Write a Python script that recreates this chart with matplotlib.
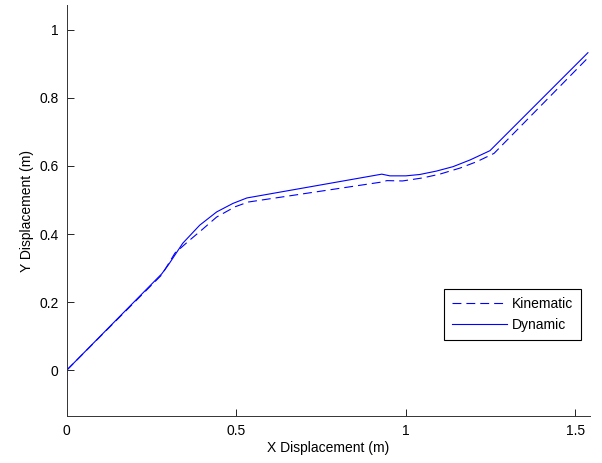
import numpy as np
import matplotlib
matplotlib.use("Agg")
import matplotlib.pyplot as plt

plt.rcParams['font.family'] = ['Liberation Sans', 'DejaVu Sans']

# Kinematic trajectory (dashed)
kin_x = [0, 0.28, 0.319, 0.36, 0.398, 0.442, 0.496, 0.535, 0.93, 0.944, 0.99, 1.05, 1.10, 1.16, 1.21, 1.26, 1.54]
kin_y = [0, 0.28, 0.344, 0.38, 0.412, 0.45, 0.48, 0.494, 0.553, 0.557, 0.556, 0.565, 0.576, 0.594, 0.613, 0.637, 0.921]

# Dynamic trajectory (solid)
dyn_x = [0, 0.28, 0.30, 0.342, 0.392, 0.442, 0.49, 0.531, 0.929, 0.953, 1.0, 1.041, 1.09, 1.139, 1.19, 1.248, 1.537]
dyn_y = [0, 0.283, 0.31, 0.373, 0.426, 0.465, 0.49, 0.506, 0.576, 0.571, 0.571, 0.575, 0.585, 0.598, 0.618, 0.645, 0.933]

xticks = [0, 0.5, 1, 1.5]
xtick_labels = ["0", "0.5", "1", "1.5"]
yticks = [0, 0.2, 0.4, 0.6, 0.8, 1]
ytick_labels = ["0", "0.2", "0.4", "0.6", "0.8", "1"]

fig = plt.figure(figsize=(6.02, 4.63), dpi=100)
ax = fig.add_axes([0.111, 0.1015, 0.869, 0.8875])

ax.plot(kin_x, kin_y, color='#0000ff', lw=0.8, dashes=(8, 4.5), label='Kinematic')
ax.plot(dyn_x, dyn_y, color='#0000ff', lw=0.8, label='Dynamic')

ax.set_xlim(0, 1.543)
ax.set_ylim(-0.135, 1.073)
ax.set_xticks(xticks)
ax.set_xticklabels(xtick_labels)
ax.set_yticks(yticks)
ax.set_yticklabels(ytick_labels)
ax.tick_params(direction='in', length=5, width=0.6, labelsize=10, pad=6)

for s in ['top', 'right']:
    ax.spines[s].set_visible(False)
for s in ['left', 'bottom']:
    ax.spines[s].set_linewidth(0.7)
    ax.spines[s].set_color('#333333')

ax.set_xlabel('X Displacement (m)', fontsize=10, labelpad=2)
ax.set_ylabel('Y Displacement (m)', fontsize=10, labelpad=4)

leg = ax.legend(loc='lower right', bbox_to_anchor=(0.983, 0.185), borderaxespad=0,
                fancybox=False, framealpha=1, edgecolor='black', fontsize=10,
                handlelength=4.0, handletextpad=0.35, borderpad=0.55, labelspacing=0.55)
leg.get_frame().set_linewidth(0.8)

fig.savefig('out.png', dpi=100)
